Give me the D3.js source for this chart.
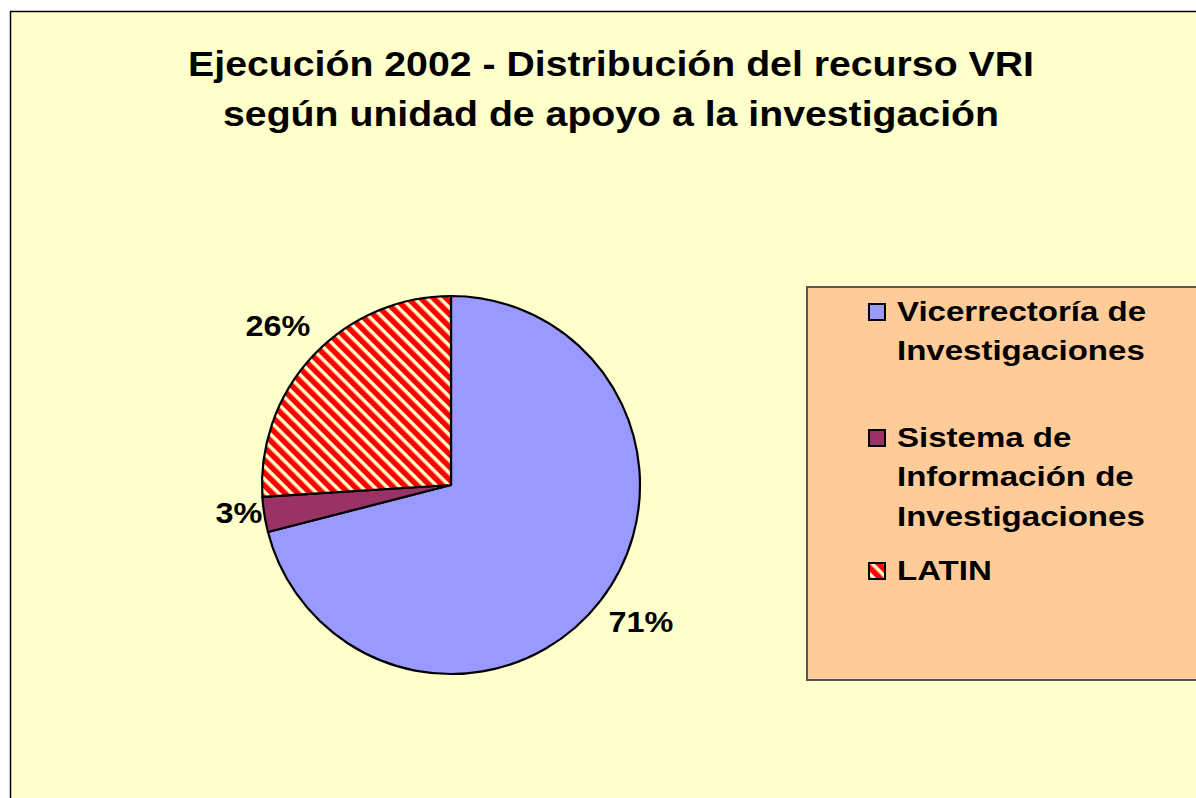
<!DOCTYPE html>
<html>
<head>
<title>Ejecución 2002</title>
<script src="https://cdn.jsdelivr.net/npm/d3@7"></script>
<style>
body { margin: 0; background: #fff; }
svg { display: block; font-family: "Liberation Sans", Arial, sans-serif; font-weight: bold; }
</style>
</head>
<body>
<svg id="chart" width="1196" height="798"></svg>
<script>
// data
var categories = ['Vicerrectoría de Investigaciones', 'Sistema de Información de Investigaciones', 'LATIN'];
var values = [71, 3, 26];
var legendLines = [['Vicerrectoría de', 'Investigaciones'], ['Sistema de', 'Información de', 'Investigaciones'], ['LATIN']];
var titleLines = ['Ejecución 2002 - Distribución del recurso VRI', 'según unidad de apoyo a la investigación'];

var svg = d3.select('#chart');
var cx = 451, cy = 485, r = 189;

// hatch for LATIN
var defs = svg.append('defs');
var pat = defs.append('pattern')
  .attr('id', 'hatch')
  .attr('patternUnits', 'userSpaceOnUse')
  .attr('width', 9).attr('height', 9)
  .attr('patternTransform', 'rotate(-45)');
pat.append('rect').attr('width', 9).attr('height', 9).attr('fill', '#ff0000');
pat.append('rect').attr('x', 5.5).attr('width', 3.5).attr('height', 9).attr('fill', '#ffffcc');

var fills = ['#9999ff', '#993366', 'url(#hatch)'];

// plot area
svg.append('rect')
  .attr('x', 10.5).attr('y', 11.5)
  .attr('width', 1200).attr('height', 800)
  .attr('fill', '#ffffcc').attr('stroke', '#000').attr('stroke-width', 1.5);

// title (a bit stretched, like the original)
svg.append('g').selectAll('text')
  .data(titleLines).enter().append('text')
  .attr('transform', function(d, i) { return 'translate(611,' + (76 + i * 50) + ') scale(1.09,1)'; })
  .attr('text-anchor', 'middle')
  .attr('font-size', 36)
  .text(function(d) { return d; });

// pie
var pie = d3.pie().sort(null).value(function(d) { return d; });
var arc = d3.arc().innerRadius(0).outerRadius(r);
var arcs = pie(values);

var g = svg.append('g').attr('transform', 'translate(' + cx + ',' + cy + ')');
g.selectAll('path')
  .data(arcs).enter().append('path')
  .attr('d', arc)
  .attr('fill', function(d, i) { return fills[i]; })
  .attr('stroke', '#000').attr('stroke-width', 2.2)
  .attr('stroke-linejoin', 'round');

// percentage labels
var labelPos = [[641, 632], [239, 523], [278, 336]];
svg.append('g').selectAll('text')
  .data(arcs).enter().append('text')
  .attr('transform', function(d, i) { return 'translate(' + labelPos[i][0] + ',' + labelPos[i][1] + ') scale(1.08,1)'; })
  .attr('text-anchor', 'middle')
  .attr('font-size', 30)
  .text(function(d) { return d.data + '%'; });

// legend
svg.append('rect')
  .attr('x', 807).attr('y', 287)
  .attr('width', 400).attr('height', 393)
  .attr('fill', '#ffcc99').attr('stroke', '#555').attr('stroke-width', 2);

var legendY = [321, 447, 580];
var lg = svg.append('g').selectAll('g')
  .data(categories).enter().append('g')
  .attr('transform', function(d, i) { return 'translate(0,' + legendY[i] + ')'; });
lg.append('rect')
  .attr('x', 869).attr('y', -17)
  .attr('width', 16).attr('height', 16)
  .attr('fill', function(d, i) { return fills[i]; })
  .attr('stroke', '#000').attr('stroke-width', 2);
lg.append('text')
  .attr('font-size', 28)
  .attr('transform', 'translate(897,0) scale(1.18,1)')
  .selectAll('tspan')
  .data(function(d, i) { return legendLines[i]; })
  .enter().append('tspan')
  .attr('x', 0)
  .attr('y', function(d, j) { return j * 39.5; })
  .text(function(d) { return d; });
</script>
</body>
</html>
